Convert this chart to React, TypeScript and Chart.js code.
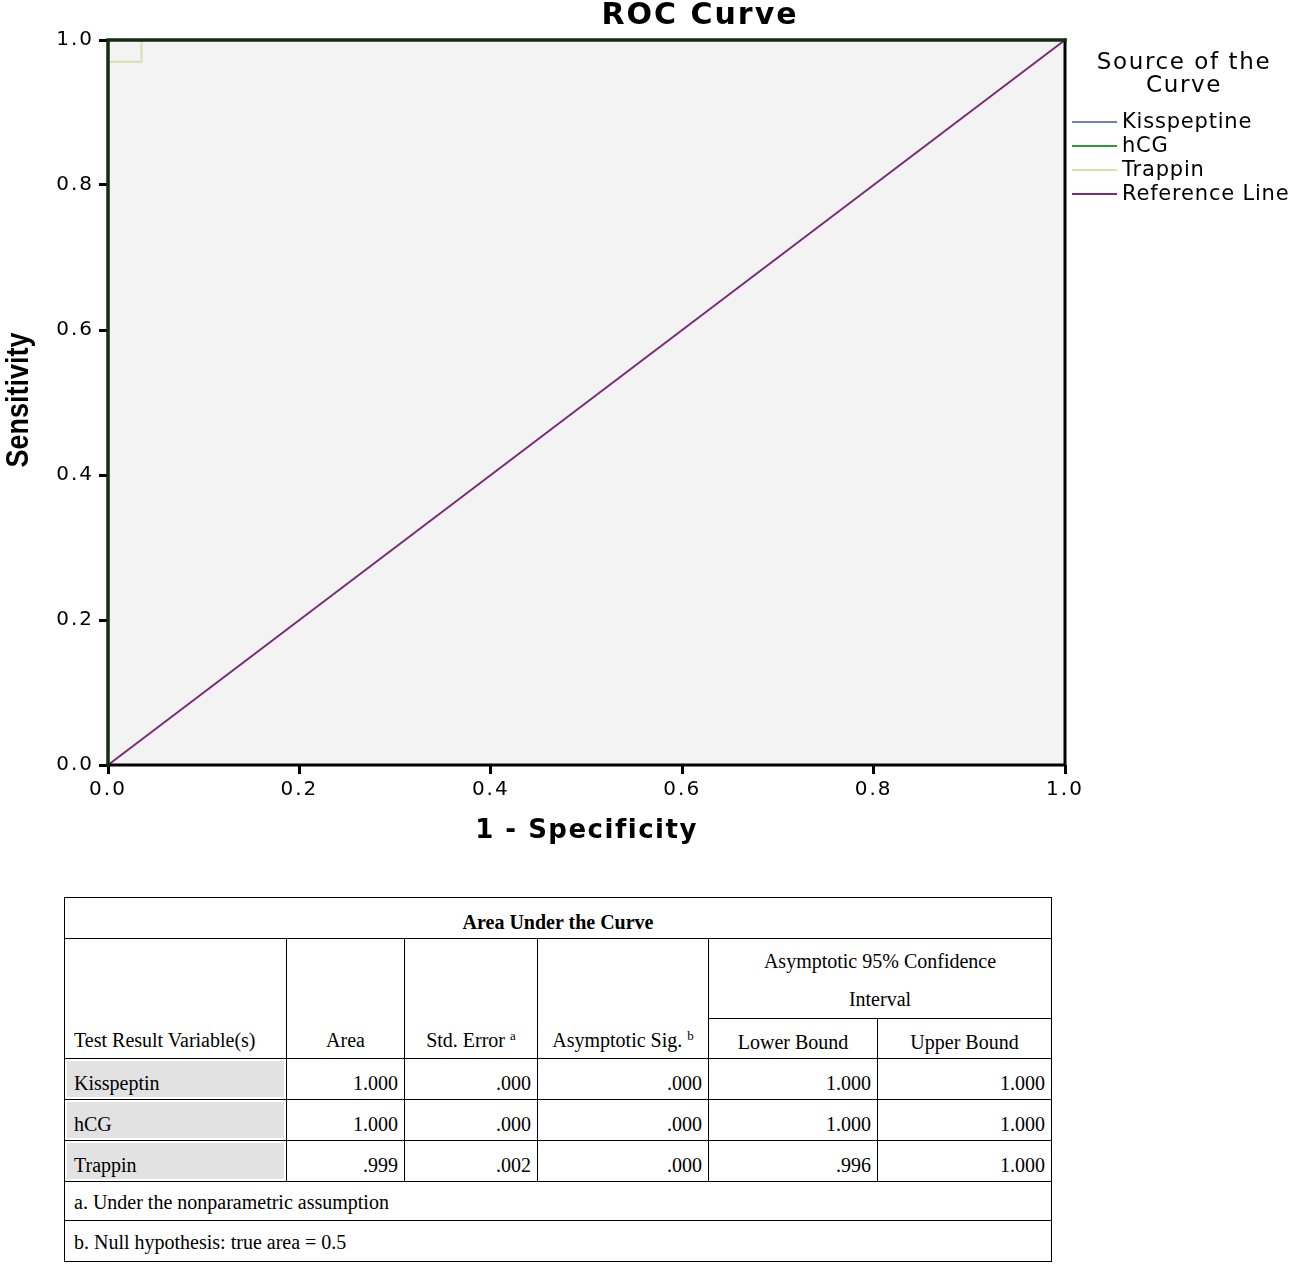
import React, { useEffect, useRef } from "react";
import { Chart, registerables } from "chart.js";

Chart.register(...registerables);

// ROC curve data (1 - Specificity, Sensitivity)
const curveNames = ["Kisspeptine", "hCG", "Trappin", "Reference Line"];
const kisspeptinFpr = [0, 0, 1];
const kisspeptinTpr = [0, 1, 1];
const hcgFpr = [0, 0, 1];
const hcgTpr = [0, 1, 1];
const trappinFpr = [0, 0, 0.035, 0.035, 1];
const trappinTpr = [0, 0.97, 0.97, 1, 1];
const referenceFpr = [0, 1];
const referenceTpr = [0, 1];
const axisTicks = [0, 0.2, 0.4, 0.6, 0.8, 1.0];

// Area Under the Curve table
const testVariables = ["Kisspeptin", "hCG", "Trappin"];
const areaValues = ["1.000", "1.000", ".999"];
const stdErrorValues = [".000", ".000", ".002"];
const sigValues = [".000", ".000", ".000"];
const lowerBoundValues = ["1.000", "1.000", ".996"];
const upperBoundValues = ["1.000", "1.000", "1.000"];

const pts = (xs: number[], ys: number[]) => xs.map((x, i) => ({ x, y: ys[i] }));

const colors = ["#7080c0", "#2a9a3a", "#dcdcb0", "#7a2a7a"];

const textPlugin = {
  id: "rocText",
  beforeDraw(chart: any) {
    const { ctx, chartArea } = chart;
    ctx.save();
    ctx.fillStyle = "#f3f3f3";
    ctx.fillRect(chartArea.left, chartArea.top, chartArea.right - chartArea.left, chartArea.bottom - chartArea.top);
    ctx.restore();
    (ctx as any).letterSpacing = "2px";
  },
  afterDatasetsDraw(chart: any) {
    const { ctx, chartArea } = chart;
    const { left, right, top, bottom } = chartArea;
    ctx.save();
    ctx.lineWidth = 3;
    ctx.lineCap = "square";
    ctx.strokeStyle = "#000";
    ctx.beginPath();
    ctx.moveTo(left, bottom);
    ctx.lineTo(right, bottom);
    ctx.lineTo(right, top);
    ctx.stroke();
    ctx.strokeStyle = "#162a16";
    ctx.lineWidth = 3.5;
    ctx.beginPath();
    ctx.moveTo(left, bottom);
    ctx.lineTo(left, top);
    ctx.lineTo(right, top);
    ctx.stroke();
    ctx.restore();
  },
  afterDraw(chart: any) {
    const { ctx, chartArea } = chart;
    ctx.save();
    ctx.fillStyle = "#000";
    ctx.textAlign = "center";
    ctx.textBaseline = "middle";
    // title
    ctx.font = "bold 30px 'DejaVu Sans'";
    (ctx as any).letterSpacing = "2px";
    ctx.fillText("ROC Curve", 700, 16);
    // x title
    ctx.font = "bold 26px 'DejaVu Sans'";
    (ctx as any).letterSpacing = "1.5px";
    ctx.fillText("1 - Specificity", (chartArea.left + chartArea.right) / 2, 831);
    // y title
    (ctx as any).letterSpacing = "0px";
    ctx.save();
    ctx.translate(19, 400);
    ctx.rotate(-Math.PI / 2);
    ctx.scale(0.87, 1);
    ctx.font = "bold 31px 'Liberation Sans', sans-serif";
    ctx.fillText("Sensitivity", 0, 0);
    ctx.restore();
    // legend
    ctx.font = "23px 'DejaVu Sans'";
    (ctx as any).letterSpacing = "1.6px";
    ctx.fillText("Source of the", 1184, 63);
    ctx.fillText("Curve", 1184, 86);
    ctx.font = "21px 'DejaVu Sans'";
    (ctx as any).letterSpacing = "0.8px";
    ctx.textAlign = "left";
    chart.data.datasets.forEach((ds: any, i: number) => {
      const y = 122 + i * 24;
      ctx.strokeStyle = ds.borderColor;
      ctx.lineWidth = 2;
      ctx.beginPath();
      ctx.moveTo(1072, y);
      ctx.lineTo(1117, y);
      ctx.stroke();
      ctx.fillText(ds.label, 1122, y + 1);
    });
    ctx.restore();
  },
};

function RocChart() {
  const ref = useRef<HTMLCanvasElement | null>(null);
  useEffect(() => {
    if (!ref.current) return;
    const tickFont = { family: "'DejaVu Sans'", size: 20 };
    const chart = new Chart(ref.current, {
      type: "scatter",
      data: {
        datasets: [
          { label: curveNames[0], data: pts(kisspeptinFpr, kisspeptinTpr), borderColor: colors[0], order: 2 },
          { label: curveNames[1], data: pts(hcgFpr, hcgTpr), borderColor: colors[1], order: 1 },
          { label: curveNames[2], data: pts(trappinFpr, trappinTpr), borderColor: colors[2], order: 3 },
          { label: curveNames[3], data: pts(referenceFpr, referenceTpr), borderColor: colors[3], order: 0 },
        ].map((d: any) => ({
          borderWidth: 2,
          ...d,
          showLine: true,
          tension: 0,
          pointRadius: 0,
          pointHoverRadius: 0,
          fill: false,
          clip: false,
        })),
      },
      options: {
        animation: false,
        responsive: false,
        layout: { padding: { left: 0, right: 234, top: 40, bottom: 0 } },
        plugins: { legend: { display: false }, tooltip: { enabled: false }, title: { display: false } },
        scales: {
          x: {
            type: "linear",
            min: 0,
            max: 1,
            afterFit: (s: any) => { s.height = 105; },
            afterBuildTicks: (s: any) => { s.ticks = axisTicks.map((v) => ({ value: v })); },
            ticks: { font: tickFont, color: "#000", padding: 4, callback: (v: any) => Number(v).toFixed(1), maxRotation: 0 },
            grid: { drawOnChartArea: false, drawTicks: true, tickLength: 9, color: "#000", lineWidth: 3 },
            border: { display: false },
          },
          y: {
            type: "linear",
            min: 0,
            max: 1,
            afterFit: (s: any) => { s.width = 108; },
            afterBuildTicks: (s: any) => { s.ticks = axisTicks.map((v) => ({ value: v })); },
            ticks: { font: tickFont, color: "#000", padding: 5, callback: (v: any) => Number(v).toFixed(1) },
            grid: { drawOnChartArea: false, drawTicks: true, tickLength: 9, color: "#000", lineWidth: 3 },
            border: { display: false },
          },
        },
      },
      plugins: [textPlugin],
    } as any);
    return () => chart.destroy();
  }, []);
  return <canvas ref={ref} width={1299} height={870} style={{ position: "absolute", left: 0, top: 0, width: 1299, height: 870 }} />;
}

const cellBase: React.CSSProperties = {
  border: "1px solid #000",
  padding: "0 6px",
  boxSizing: "border-box",
  whiteSpace: "nowrap",
};

function AucTable() {
  const sup: React.CSSProperties = { fontSize: 13, position: "relative", top: -7, marginLeft: 5 };
  return (
    <table
      style={{
        position: "absolute",
        left: 64,
        top: 897,
        width: 987,
        borderCollapse: "collapse",
        tableLayout: "fixed",
        fontFamily: "'Liberation Serif', 'Times New Roman', serif",
        fontSize: 20,
        color: "#000",
        border: "1.5px solid #000",
      }}
    >
      <colgroup>
        <col style={{ width: 222 }} />
        <col style={{ width: 118 }} />
        <col style={{ width: 133 }} />
        <col style={{ width: 171 }} />
        <col style={{ width: 169 }} />
        <col style={{ width: 174 }} />
      </colgroup>
      <tbody>
        <tr style={{ height: 41 }}>
          <td colSpan={6} style={{ ...cellBase, textAlign: "center", fontWeight: "bold", verticalAlign: "bottom", paddingBottom: 4 }}>
            Area Under the Curve
          </td>
        </tr>
        <tr style={{ height: 80 }}>
          <td rowSpan={2} style={{ ...cellBase, verticalAlign: "bottom", paddingBottom: 6, paddingLeft: 9 }}>Test Result Variable(s)</td>
          <td rowSpan={2} style={{ ...cellBase, verticalAlign: "bottom", paddingBottom: 6, textAlign: "center" }}>Area</td>
          <td rowSpan={2} style={{ ...cellBase, verticalAlign: "bottom", paddingBottom: 6, textAlign: "center" }}>
            Std. Error<span style={sup}>a</span>
          </td>
          <td rowSpan={2} style={{ ...cellBase, verticalAlign: "bottom", paddingBottom: 6, textAlign: "center" }}>
            Asymptotic Sig.<span style={sup}>b</span>
          </td>
          <td colSpan={2} style={{ ...cellBase, textAlign: "center", lineHeight: "38px", verticalAlign: "middle", paddingTop: 3 }}>
            Asymptotic 95% Confidence
            <br />
            Interval
          </td>
        </tr>
        <tr style={{ height: 40 }}>
          <td style={{ ...cellBase, textAlign: "center", verticalAlign: "bottom", paddingBottom: 4 }}>Lower Bound</td>
          <td style={{ ...cellBase, textAlign: "center", verticalAlign: "bottom", paddingBottom: 4 }}>Upper Bound</td>
        </tr>
        {testVariables.map((v, i) => (
          <tr key={v} style={{ height: 41 }}>
            <td style={{ ...cellBase, background: "#e2e2e2", boxShadow: "inset 0 0 0 2px #fff", verticalAlign: "bottom", paddingBottom: 4, paddingLeft: 9 }}>{v}</td>
            <td style={{ ...cellBase, textAlign: "right", verticalAlign: "bottom", paddingBottom: 4, paddingRight: 6 }}>{areaValues[i]}</td>
            <td style={{ ...cellBase, textAlign: "right", verticalAlign: "bottom", paddingBottom: 4, paddingRight: 6 }}>{stdErrorValues[i]}</td>
            <td style={{ ...cellBase, textAlign: "right", verticalAlign: "bottom", paddingBottom: 4, paddingRight: 6 }}>{sigValues[i]}</td>
            <td style={{ ...cellBase, textAlign: "right", verticalAlign: "bottom", paddingBottom: 4, paddingRight: 6 }}>{lowerBoundValues[i]}</td>
            <td style={{ ...cellBase, textAlign: "right", verticalAlign: "bottom", paddingBottom: 4, paddingRight: 6 }}>{upperBoundValues[i]}</td>
          </tr>
        ))}
        <tr style={{ height: 39 }}>
          <td colSpan={6} style={{ ...cellBase, verticalAlign: "middle", paddingLeft: 9, paddingTop: 2 }}>a. Under the nonparametric assumption</td>
        </tr>
        <tr style={{ height: 41 }}>
          <td colSpan={6} style={{ ...cellBase, verticalAlign: "middle", paddingLeft: 9, paddingTop: 3 }}>b. Null hypothesis: true area = 0.5</td>
        </tr>
      </tbody>
    </table>
  );
}

export default function App() {
  return (
    <div style={{ position: "absolute", left: 0, top: 0, width: 1299, height: 1266, background: "#fff" }}>
      <RocChart />
      <AucTable />
    </div>
  );
}
